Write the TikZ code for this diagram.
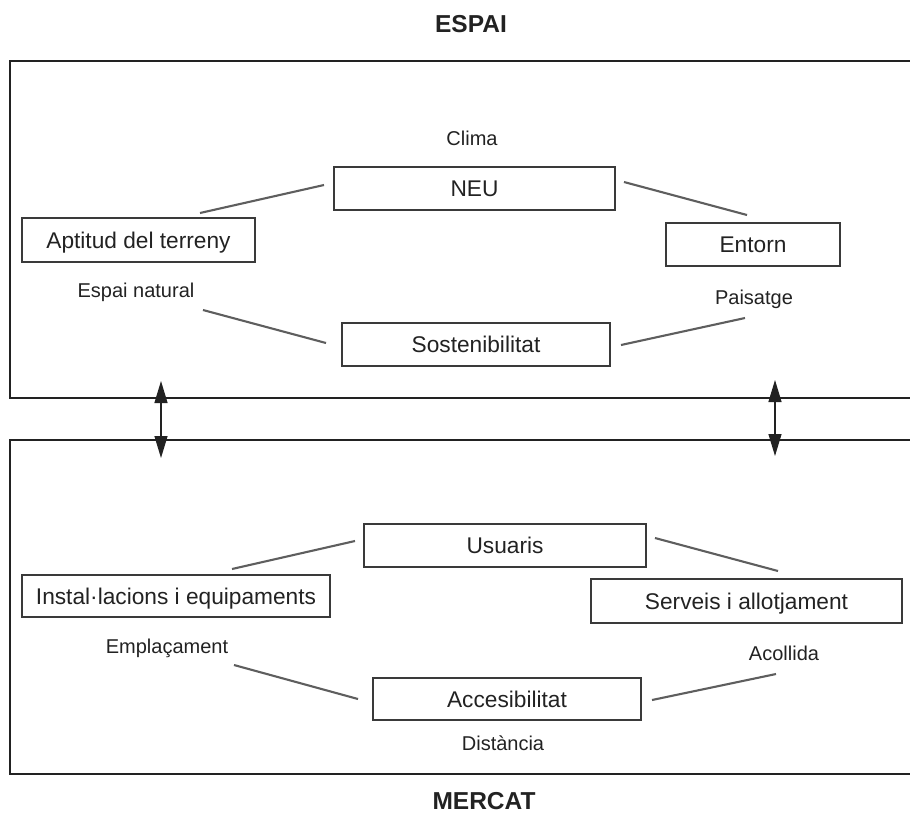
\documentclass[tikz,border=0pt]{standalone}
\usepackage{fontspec}
\setmainfont{Liberation Sans}
\usetikzlibrary{arrows.meta}
\definecolor{ink}{HTML}{222222}
\definecolor{boxc}{HTML}{3A3A3A}
\definecolor{linkc}{HTML}{5E5E5E}
\tikzset{
  box/.style={draw=boxc,line width=1.4pt,inner sep=0pt,text=ink,
    font=\fontsize{22.7}{26}\selectfont,text height=16.2pt,text depth=0pt},
  lbl/.style={inner sep=0pt,text=ink,font=\fontsize{20}{23}\selectfont,
    text height=14.3pt,text depth=0pt},
  ttl/.style={inner sep=0pt,text=ink,font=\fontsize{24.5}{28}\selectfont\bfseries,
    text height=17.5pt,text depth=0pt},
  frameline/.style={draw=ink,line width=1.8pt},
  link/.style={draw=linkc,line width=2.1pt},
  dbl/.style={draw=ink,line width=1.2pt,
    {Triangle[length=22pt,width=13pt]}-{Triangle[length=22pt,width=13pt]}}
}
\begin{document}
\begin{tikzpicture}[x=1pt,y=-1pt]
\useasboundingbox (0,0) rectangle (910,815);

% titles
\node[ttl] (espai) at (471,24) {ESPAI};
\node[ttl] (mercat) at (484,801) {MERCAT};

% frames
\coordinate (f1a) at (910,61);
\coordinate (f1b) at (10,61);
\coordinate (f1c) at (10,398);
\coordinate (f1d) at (910,398);
\coordinate (f2a) at (910,440);
\coordinate (f2b) at (10,440);
\coordinate (f2c) at (10,774);
\coordinate (f2d) at (910,774);
\draw[frameline] (f1a) -- (f1b) -- (f1c) -- (f1d);
\draw[frameline] (f2a) -- (f2b) -- (f2c) -- (f2d);

% ESPAI boxes
\node[box,minimum width=281pt,minimum height=43pt] (neu) at (474.5,188.5) {NEU};
\node[box,minimum width=233pt,minimum height=44pt] (apt) at (138.5,240) {Aptitud del terreny};
\node[box,minimum width=174pt,minimum height=43pt] (ent) at (753,244.5) {Entorn};
\node[box,minimum width=268pt,minimum height=43pt] (sos) at (476,344.5) {Sostenibilitat};

\node[lbl] (clima) at (472,138) {Clima};
\node[lbl] (enat) at (136,290) {Espai natural};
\node[lbl] (pais) at (754,297) {Paisatge};

% ESPAI links
\coordinate (l1a) at (200,213); \coordinate (l1b) at (324,185);
\coordinate (l2a) at (624,182); \coordinate (l2b) at (747,215);
\coordinate (l3a) at (203,310); \coordinate (l3b) at (326,343);
\coordinate (l4a) at (621,345); \coordinate (l4b) at (745,318);
\draw[link] (l1a) -- (l1b);
\draw[link] (l2a) -- (l2b);
\draw[link] (l3a) -- (l3b);
\draw[link] (l4a) -- (l4b);

% MERCAT boxes
\node[box,minimum width=282pt,minimum height=43pt] (usu) at (505,545.5) {Usuaris};
\node[box,minimum width=308pt,minimum height=42pt] (ins) at (176,596) {Instal·lacions i equipaments};
\node[box,minimum width=311pt,minimum height=44pt] (ser) at (746.5,601) {Serveis i allotjament};
\node[box,minimum width=268pt,minimum height=42pt] (acc) at (507,699) {Accesibilitat};

\node[lbl] (empl) at (167,646) {Emplaçament};
\node[lbl] (acol) at (784,653) {Acollida};
\node[lbl] (dist) at (503,743) {Distància};

% MERCAT links
\coordinate (m1a) at (232,569); \coordinate (m1b) at (355,541);
\coordinate (m2a) at (655,538); \coordinate (m2b) at (778,571);
\coordinate (m3a) at (234,665); \coordinate (m3b) at (358,699);
\coordinate (m4a) at (652,700); \coordinate (m4b) at (776,674);
\draw[link] (m1a) -- (m1b);
\draw[link] (m2a) -- (m2b);
\draw[link] (m3a) -- (m3b);
\draw[link] (m4a) -- (m4b);

% double arrows between frames
\coordinate (al1) at (161,381); \coordinate (al2) at (161,458);
\coordinate (ar1) at (775,380); \coordinate (ar2) at (775,456);
\draw[dbl] (al1) -- (al2);
\draw[dbl] (ar1) -- (ar2);
\end{tikzpicture}
\end{document}
